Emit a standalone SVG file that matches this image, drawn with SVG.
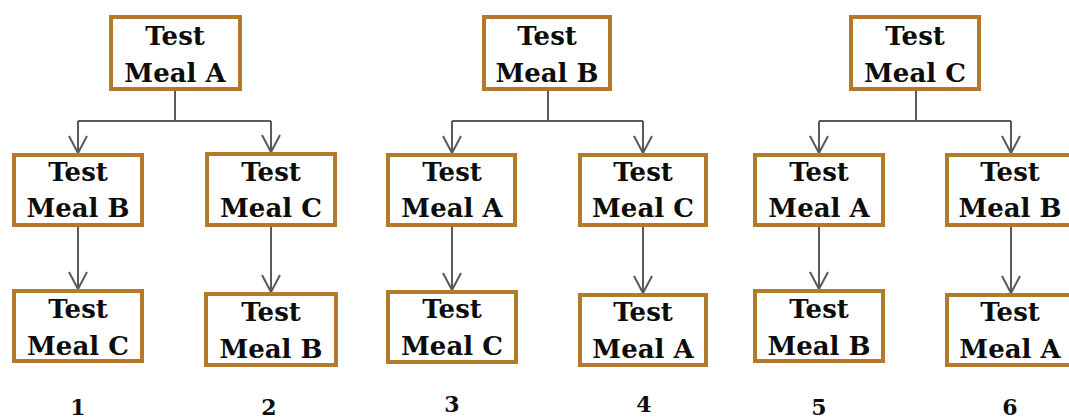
<svg xmlns="http://www.w3.org/2000/svg" width="1069" height="419" viewBox="0 0 1069 419">
  <style>
    .box rect { fill: #ffffff; stroke: #b47a2c; stroke-width: 4; }
    .box text { font-family: "DejaVu Serif", "Liberation Serif", serif; font-weight: 700; font-size: 26px; fill: #0d0d0d; text-anchor: middle; }
    .num { font-family: "DejaVu Serif", "Liberation Serif", serif; font-weight: 700; font-size: 22px; fill: #0d0d0d; text-anchor: middle; }
    .conn path { fill: none; stroke: #5a5a5a; stroke-width: 2; }
  </style>
  <defs>
    <marker id="arrow" markerUnits="userSpaceOnUse" markerWidth="24" markerHeight="24" viewBox="-20 -12 24 24" refX="0" refY="0" orient="auto">
      <path d="M-17,-9 L0,0 L-17,9" fill="none" stroke="#5a5a5a" stroke-width="2"/>
    </marker>
  </defs>

  <rect width="1069" height="419" fill="#ffffff"/>

  <!-- connectors -->
  <g id="connectors" class="conn">
    <!-- sequence A -->
    <path d="M175,91 V121"/>
    <path d="M78,121 H271"/>
    <path d="M78,121 V153" marker-end="url(#arrow)"/>
    <path d="M271,121 V152" marker-end="url(#arrow)"/>
    <path d="M78,227 V289" marker-end="url(#arrow)"/>
    <path d="M271,227 V292" marker-end="url(#arrow)"/>
    <!-- sequence B -->
    <path d="M548,91 V121"/>
    <path d="M452,121 H643"/>
    <path d="M452,121 V153" marker-end="url(#arrow)"/>
    <path d="M643,121 V153" marker-end="url(#arrow)"/>
    <path d="M452,227 V290" marker-end="url(#arrow)"/>
    <path d="M643,227 V293" marker-end="url(#arrow)"/>
    <!-- sequence C -->
    <path d="M916,91 V121"/>
    <path d="M819,121 H1011"/>
    <path d="M819,121 V153" marker-end="url(#arrow)"/>
    <path d="M1011,121 V153" marker-end="url(#arrow)"/>
    <path d="M819,227 V289" marker-end="url(#arrow)"/>
    <path d="M1011,227 V293" marker-end="url(#arrow)"/>
  </g>

  <!-- sequence A -->
  <g id="a-top" class="box">
    <rect x="111" y="17" width="129" height="72"/>
    <text x="175" y="45">Test</text>
    <text x="175" y="82">Meal A</text>
  </g>
  <g id="a1-mid" class="box">
    <rect x="14" y="155" width="128" height="70"/>
    <text x="78" y="181">Test</text>
    <text x="78" y="217">Meal B</text>
  </g>
  <g id="a2-mid" class="box">
    <rect x="207" y="154" width="128" height="71"/>
    <text x="271" y="181">Test</text>
    <text x="271" y="217">Meal C</text>
  </g>
  <g id="a1-end" class="box">
    <rect x="14" y="291" width="128" height="70"/>
    <text x="78" y="318">Test</text>
    <text x="78" y="355">Meal C</text>
  </g>
  <g id="a2-end" class="box">
    <rect x="206" y="294" width="130" height="71"/>
    <text x="271" y="321">Test</text>
    <text x="271" y="358">Meal B</text>
  </g>

  <!-- sequence B -->
  <g id="b-top" class="box">
    <rect x="484" y="17" width="126" height="72"/>
    <text x="547" y="45">Test</text>
    <text x="547" y="82">Meal B</text>
  </g>
  <g id="b1-mid" class="box">
    <rect x="388" y="155" width="127" height="70"/>
    <text x="452" y="181">Test</text>
    <text x="452" y="217">Meal A</text>
  </g>
  <g id="b2-mid" class="box">
    <rect x="580" y="155" width="126" height="70"/>
    <text x="643" y="181">Test</text>
    <text x="643" y="217">Meal C</text>
  </g>
  <g id="b1-end" class="box">
    <rect x="388" y="292" width="128" height="70"/>
    <text x="452" y="318">Test</text>
    <text x="452" y="355">Meal C</text>
  </g>
  <g id="b2-end" class="box">
    <rect x="580" y="295" width="126" height="70"/>
    <text x="643" y="321">Test</text>
    <text x="643" y="358">Meal A</text>
  </g>

  <!-- sequence C -->
  <g id="c-top" class="box">
    <rect x="851" y="17" width="128" height="72"/>
    <text x="915" y="45">Test</text>
    <text x="915" y="82">Meal C</text>
  </g>
  <g id="c1-mid" class="box">
    <rect x="755" y="155" width="128" height="70"/>
    <text x="819" y="181">Test</text>
    <text x="819" y="217">Meal A</text>
  </g>
  <g id="c2-mid" class="box">
    <rect x="947" y="155" width="129" height="70"/>
    <text x="1010" y="181">Test</text>
    <text x="1010" y="217">Meal B</text>
  </g>
  <g id="c1-end" class="box">
    <rect x="755" y="291" width="128" height="70"/>
    <text x="819" y="318">Test</text>
    <text x="819" y="355">Meal B</text>
  </g>
  <g id="c2-end" class="box">
    <rect x="947" y="295" width="129" height="70"/>
    <text x="1010" y="321">Test</text>
    <text x="1010" y="358">Meal A</text>
  </g>

  <!-- sequence numbers -->
  <g id="labels">
    <text class="num" x="78" y="415">1</text>
    <text class="num" x="269" y="415">2</text>
    <text class="num" x="452" y="412">3</text>
    <text class="num" x="644" y="412">4</text>
    <text class="num" x="819" y="415">5</text>
    <text class="num" x="1010" y="415">6</text>
  </g>
</svg>
